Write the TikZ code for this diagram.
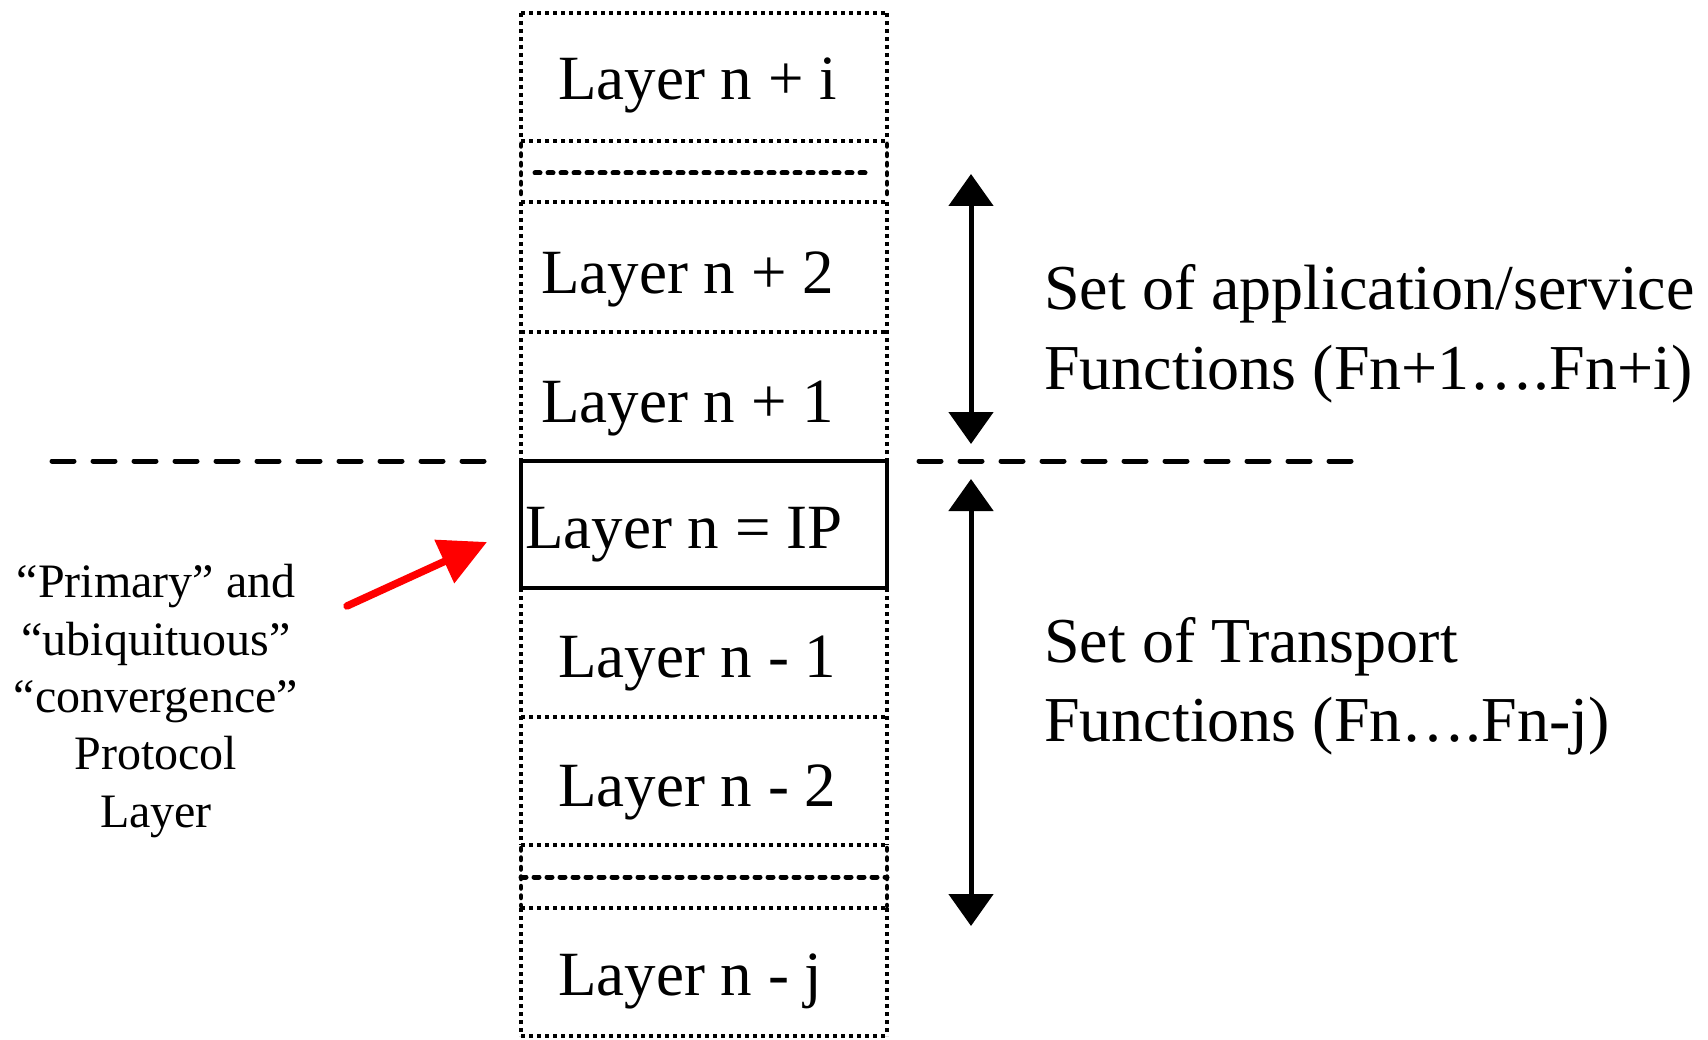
\documentclass[tikz,border=0pt]{standalone}
\usepackage{fontspec}
\setmainfont{Liberation Serif}
\usetikzlibrary{arrows.meta}
\begin{document}
\begin{tikzpicture}[x=1pt,y=-1pt,
  dotline/.style={draw=black,line width=4pt,dash pattern=on 4pt off 4pt,line cap=butt},
  thickdot/.style={draw=black,line width=4.5pt,dash pattern=on 2.5pt off 7pt,line cap=round},
  ipbox/.style={draw=black,line width=4pt},
  layertxt/.style={anchor=base west,inner sep=0pt,font=\fontsize{63}{70}\selectfont},
  sidetxt/.style={anchor=base west,inner sep=0pt,align=left,font=\fontsize{64}{79}\selectfont},
  lefttxt/.style={anchor=base,inner sep=0pt,align=center,font=\fontsize{48}{57.3}\selectfont},
  sep/.style={line width=5pt,dash pattern=on 22pt off 19pt,line cap=round},
  sepinner/.style={line width=5pt,dash pattern=on 5pt off 8pt,line cap=round},
  span/.style={line width=5pt,{Triangle[width=44pt,length=32pt]}-{Triangle[width=44pt,length=32pt]}},
  redarrow/.style={draw=red,line width=7.5pt,line cap=round,-{Triangle[width=46pt,length=47pt]}}
]
\useasboundingbox (0,0) rectangle (1708,1040);
% horizontal dotted edges of the layer column
\foreach \yy in {13,141,202,332,717,845,908,1036}
  \path[dotline] (521,\yy) -- (887,\yy);
% vertical dotted sides
\foreach \xx in {521,887}{
  \path[dotline] (\xx,13) -- (\xx,141);
  \path[dotline] (\xx,202) -- (\xx,461);
  \path[dotline] (\xx,588) -- (\xx,845);
  \path[dotline] (\xx,908) -- (\xx,1036);
  \path[thickdot] (\xx,144) -- (\xx,200);
  \path[thickdot] (\xx,848) -- (\xx,906);
}
\path[ipbox] (521,461) rectangle (887,588);
% inner dashed lines
\coordinate (ia) at (535,173); \coordinate (ib) at (870,173);
\draw[sepinner] (ia) -- (ib);
\coordinate (ja) at (521,877); \coordinate (jb) at (887,877);
\draw[sepinner] (ja) -- (jb);
% texts
\node[layertxt] (li) at (558,100) {Layer n + i};
\node[layertxt] (l2) at (541,294) {Layer n + 2};
\node[layertxt] (l1) at (541,422) {Layer n + 1};
\node[layertxt] (lip) at (525,548) {Layer n = IP};
\node[layertxt] (lm1) at (558,677) {Layer n - 1};
\node[layertxt] (lm2) at (558,806) {Layer n - 2};
\node[layertxt] (lmj) at (558,995) {Layer n - j};
% separator
\coordinate (s1a) at (52,461); \coordinate (s1b) at (488,461);
\coordinate (s2a) at (919,461); \coordinate (s2b) at (1368,461);
\draw[sep] (s1a) -- (s1b);
\draw[sep] (s2a) -- (s2b);
% span arrows
\coordinate (ua) at (971,174); \coordinate (ub) at (971,444);
\coordinate (da) at (971,479); \coordinate (db) at (971,926);
\draw[span] (ua) -- (ub);
\draw[span] (da) -- (db);
\node[sidetxt] (app) at (1044,389) {Set of application/service\\Functions (Fn+1….Fn+i)};
\node[sidetxt] (tra) at (1044,741) {Set of Transport\\Functions (Fn….Fn-j)};
% left label and red arrow
\node[lefttxt] (prim) at (156,827) {“Primary” and\\“ubiquituous”\\“convergence”\\Protocol\\Layer};
\coordinate (rs) at (347,606);
\coordinate (rt) at (487,542);
\draw[redarrow] (rs) -- (rt);
\end{tikzpicture}
\end{document}
